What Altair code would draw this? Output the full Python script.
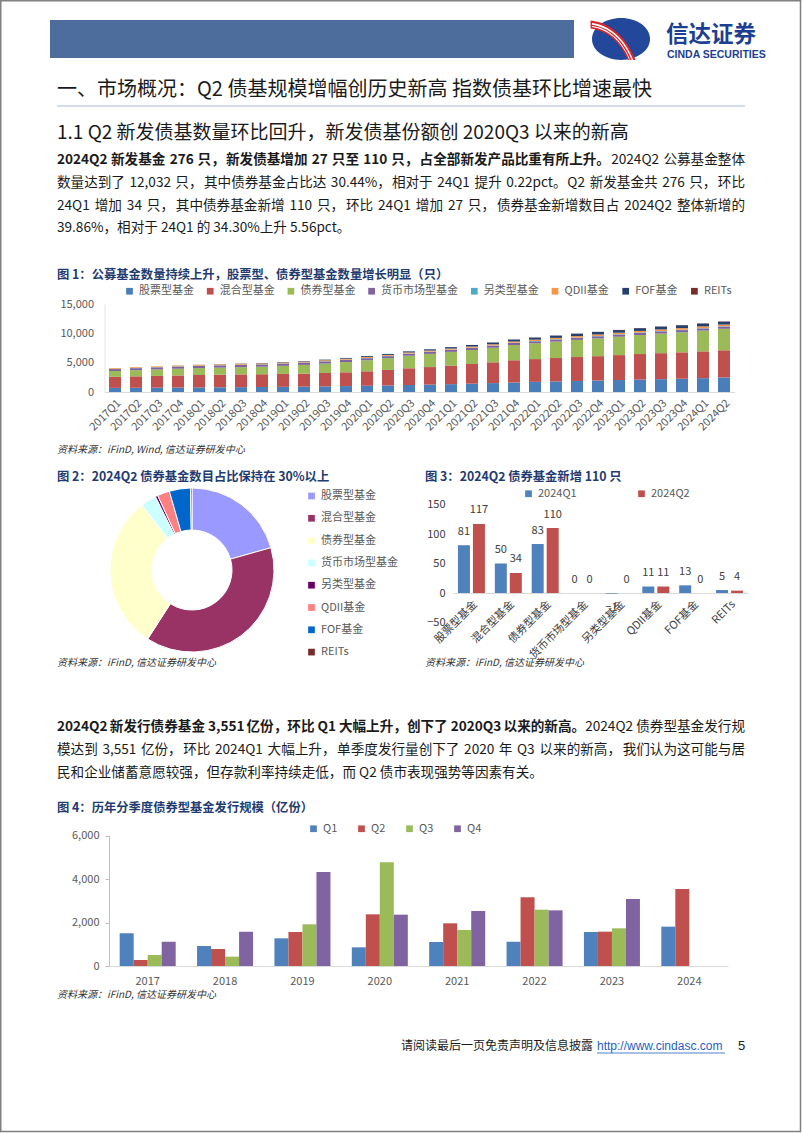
import altair as alt
import pandas as pd

FONT = "Noto Sans CJK SC"
W, H = 802, 1133

# ---------------- data: chart 1 (fund counts by type, per quarter) ----------------
quarters = ["2017Q1", "2017Q2", "2017Q3", "2017Q4", "2018Q1", "2018Q2", "2018Q3", "2018Q4",
            "2019Q1", "2019Q2", "2019Q3", "2019Q4", "2020Q1", "2020Q2", "2020Q3", "2020Q4",
            "2021Q1", "2021Q2", "2021Q3", "2021Q4", "2022Q1", "2022Q2", "2022Q3", "2022Q4",
            "2023Q1", "2023Q2", "2023Q3", "2023Q4", "2024Q1", "2024Q2"]
fund_types = ["股票型基金", "混合型基金", "债券型基金", "货币市场型基金", "另类型基金", "QDII基金", "FOF基金", "REITs"]
stock = [700, 720, 740, 760, 780, 800, 830, 850, 880, 910, 960, 1010, 1060, 1110, 1190, 1260,
         1340, 1420, 1520, 1640, 1730, 1800, 1880, 1960, 2040, 2120, 2190, 2260, 2360, 2480]
mixed = [1880, 1950, 2000, 2060, 2120, 2150, 2170, 2180, 2200, 2230, 2280, 2350, 2470, 2650, 2850, 2990,
         3180, 3350, 3540, 3780, 3880, 3990, 4080, 4150, 4250, 4350, 4430, 4500, 4570, 4630]
bond = [1000, 1050, 1100, 1150, 1180, 1200, 1230, 1280, 1380, 1480, 1600, 1740, 1880, 2010, 2140, 2250,
        2320, 2390, 2480, 2580, 2690, 2800, 2920, 3020, 3130, 3240, 3340, 3420, 3530, 3663]
money = [330, 345, 360, 370, 375, 380, 380, 380, 375, 370, 365, 360, 345, 335, 330, 330,
         330, 335, 335, 335, 340, 345, 350, 360, 365, 370, 372, 372, 372, 373]
alt_fund = [30, 32, 34, 36, 38, 40, 42, 44, 46, 48, 50, 52, 52, 52, 53, 53,
            54, 55, 56, 57, 58, 58, 59, 59, 60, 60, 60, 60, 60, 60]
qdii = [130, 132, 135, 138, 140, 145, 150, 155, 158, 160, 162, 165, 168, 170, 175, 180,
        185, 195, 205, 215, 225, 235, 245, 255, 262, 270, 275, 280, 285, 290]
fof = [0, 0, 4, 8, 16, 30, 45, 60, 70, 85, 100, 130, 150, 170, 190, 220,
       240, 270, 300, 330, 360, 390, 410, 430, 450, 470, 480, 490, 495, 500]
reits = [0, 0, 0, 0, 0, 0, 0, 0, 0, 0, 0, 0, 0, 0, 0, 0,
         0, 9, 11, 11, 12, 14, 20, 24, 26, 27, 29, 29, 33, 36]
colors1 = ["#4A7EBB", "#C0504D", "#9BBB59", "#8064A2", "#4BACC6", "#F79646", "#24406E", "#772C2A"]

# ---------------- data: chart 2 (2024Q2 share) ----------------
pie_values = [2480, 4630, 3663, 373, 60, 290, 500, 36]
pie_colors = ["#9999FF", "#993366", "#FFFFCC", "#CCFFFF", "#660066", "#FF8080", "#0066CC", "#772C2A"]

# ---------------- data: chart 3 (new funds) ----------------
series3 = ["2024Q1", "2024Q2"]
new_q1 = [81, 50, 83, 0, -1, 11, 13, 5]
new_q2 = [117, 34, 110, 0, 0, 11, 0, 4]
colors3 = ["#4F81BD", "#C0504D"]

# ---------------- data: chart 4 (bond fund issuance, 亿份) ----------------
years = ["2017", "2018", "2019", "2020", "2021", "2022", "2023", "2024"]
seasons = ["Q1", "Q2", "Q3", "Q4"]
iss_q1 = [1504, 921, 1274, 860, 1105, 1121, 1566, 1811]
iss_q2 = [276, 783, 1566, 2379, 1965, 3162, 1581, 3551]
iss_q3 = [507, 430, 1919, 4774, 1658, 2594, 1735, None]
iss_q4 = [1120, 1581, 4329, 2364, 2533, 2563, 3085, None]
colors4 = ["#4F81BD", "#C0504D", "#9BBB59", "#8064A2"]

# ---------------- page text ----------------
section_title = "一、市场概况：Q2 债基规模增幅创历史新高 指数债基环比增速最快"
sub_title = "1.1 Q2 新发债基数量环比回升，新发债基份额创 2020Q3 以来的新高"
p1_bold = "2024Q2 新发基金 276 只，新发债基增加 27 只至 110 只，占全部新发产品比重有所上升。"
p1_tail = "2024Q2 公募基金整体"
p1_lines = ["数量达到了 12,032 只，其中债券基金占比达 30.44%，相对于 24Q1 提升 0.22pct。Q2 新发基金共 276 只，环比",
            "24Q1 增加 34 只，其中债券基金新增 110 只，环比 24Q1 增加 27 只，债券基金新增数目占 2024Q2 整体新增的",
            "39.86%，相对于 24Q1 的 34.30%上升 5.56pct。"]
p2_bold = "2024Q2 新发行债券基金 3,551 亿份，环比 Q1 大幅上升，创下了 2020Q3 以来的新高。"
p2_tail = "2024Q2 债券型基金发行规"
p2_lines = ["模达到 3,551 亿份，环比 2024Q1 大幅上升，单季度发行量创下了 2020 年 Q3 以来的新高，我们认为这可能与居",
            "民和企业储蓄意愿较强，但存款利率持续走低，而 Q2 债市表现强势等因素有关。"]
fig1_title = "图 1：公募基金数量持续上升，股票型、债券型基金数量增长明显（只）"
fig2_title = "图 2：2024Q2 债券基金数目占比保持在 30%以上"
fig3_title = "图 3：2024Q2 债券基金新增 110 只"
fig4_title = "图 4：历年分季度债券型基金发行规模（亿份）"
src1 = "资料来源：iFinD, Wind, 信达证券研发中心"
src2 = "资料来源：iFinD, 信达证券研发中心"
footer_text = "请阅读最后一页免责声明及信息披露"
footer_url = "http://www.cindasc.com"
page_no = "5"

TITLE_C = "#1F3B70"
AX_C = "#595959"
LEFT, RIGHT = 57, 745
BODY = 13.6


def text_layer(s, x, y, size=13, weight="normal", color="#1A1A1A", align="left", style="normal", font=FONT):
    return alt.Chart(alt.Data(values=[{"t": s}])).mark_text(
        align=align, baseline="middle", fontSize=size, fontWeight=weight,
        color=color, font=font, fontStyle=style
    ).encode(x=alt.value(x), y=alt.value(y), text="t:N")


def rule_layer(x1, y1, x2, y2, color, width):
    return alt.Chart(alt.Data(values=[{"k": 0}])).mark_rule(color=color, strokeWidth=width).encode(
        x=alt.value(x1), y=alt.value(y1), x2=alt.value(x2), y2=alt.value(y2))


def est_width(s, size, bold=False):
    w = 0.0
    for ch in s:
        if ord(ch) > 0x2E80:
            w += 1.0
        elif ch == " ":
            w += 0.224
        elif ch.isdigit():
            w += 0.58 if bold else 0.553
        elif ch in ",.":
            w += 0.28
        elif ch == "%":
            w += 0.89
        elif ch == "Q":
            w += 0.76
        elif ch in "pc":
            w += 0.55
        elif ch == "t":
            w += 0.35
        else:
            w += 0.55
    return w * size


def split_segments(s):
    segs, cur = [], ""
    for ch in s:
        cur += ch
        if ch in "，。 ":
            segs.append(cur)
            cur = ""
    if cur:
        segs.append(cur)
    return segs


def justified_line(parts, y):
    """parts: list of (text, bold). Spread the segments so the line runs LEFT..RIGHT."""
    segs = []
    for text, bold in parts:
        for sg in split_segments(text):
            segs.append((sg, bold))
    widths = [est_width(sg, BODY, b) for sg, b in segs]
    gap = (RIGHT - LEFT - sum(widths)) / max(len(segs) - 1, 1)
    out, x = [], LEFT
    for k, ((sg, b), w) in enumerate(zip(segs, widths)):
        wt = "bold" if b else "normal"
        if k == len(segs) - 1 and k > 0:
            out.append(text_layer(sg, RIGHT, y, size=BODY, weight=wt, align="right"))
        else:
            out.append(text_layer(sg, x, y, size=BODY, weight=wt))
        x += w + gap
    return out


def legend(x, y, direction="horizontal", columns=None, col_pad=10, row_pad=8):
    kw = dict(orient="none", legendX=x, legendY=y, direction=direction, title=None,
              symbolType="square", symbolSize=45, symbolStrokeWidth=0,
              labelFontSize=11, labelFont=FONT, labelColor=AX_C,
              columnPadding=col_pad, rowPadding=row_pad, labelOffset=4, padding=0)
    if columns:
        kw["columns"] = columns
    return alt.Legend(**kw)


layers = []

# page border & header
layers.append(alt.Chart(alt.Data(values=[{"k": 0}])).mark_rect(
    fillOpacity=0, stroke="#808080", strokeWidth=1.5).encode(
    x=alt.value(0.75), x2=alt.value(800.5), y=alt.value(0.75), y2=alt.value(1131.5)))
layers.append(alt.Chart(alt.Data(values=[{"k": 0}])).mark_rect(color="#4D6E9C").encode(
    x=alt.value(50), x2=alt.value(574), y=alt.value(20), y2=alt.value(58)))

ELLIPSE = ("M -1 0 C -1 -0.3977 -0.5523 -0.72 0 -0.72 C 0.5523 -0.72 1 -0.3977 1 0 "
           "C 1 0.3977 0.5523 0.72 0 0.72 C -0.5523 0.72 -1 0.3977 -1 0 Z")
RIBBON = "M -1.05 -0.64 C -0.45 -0.58 0.15 -0.15 0.5 0.72 L 0.24 0.72 C -0.05 0.05 -0.5 -0.28 -1.05 -0.36 Z"
STRIPE1 = "M -1.0 -0.55 C -0.42 -0.47 0.12 -0.05 0.42 0.72 L 0.37 0.72 C 0.08 0.0 -0.42 -0.4 -1.0 -0.49 Z"
STRIPE2 = "M -1.0 -0.45 C -0.45 -0.38 0.02 0.0 0.32 0.72 L 0.29 0.72 C 0.0 0.04 -0.45 -0.32 -1.0 -0.41 Z"
for shp, col in [(ELLIPSE, "#23479B"), (RIBBON, "#D9262C"), (STRIPE1, "#FFFFFF"), (STRIPE2, "#FFFFFF")]:
    layers.append(alt.Chart(alt.Data(values=[{"k": 0}])).mark_point(
        shape=shp, size=3364, filled=True, color=col, opacity=1, strokeWidth=0).encode(
        x=alt.value(621), y=alt.value(39)))
layers.append(text_layer("信达证券", 666, 35, size=22.5, weight="bold", color="#1C3F94"))
layers.append(text_layer("CINDA SECURITIES", 667, 54.5, size=10.5, weight="bold", color="#1C3F94",
                         font="Liberation Sans"))

# headings
layers.append(text_layer(section_title, LEFT, 90, size=20, color="#1A1A1A"))
layers.append(rule_layer(LEFT, 106, RIGHT, 106, "#A9B9CF", 1))
layers.append(text_layer(sub_title, LEFT, 133, size=19, color="#1A1A1A"))

# paragraph 1
layers += justified_line([(p1_bold, True), (p1_tail, False)], 160)
layers += justified_line([(p1_lines[0], False)], 183)
layers += justified_line([(p1_lines[1], False)], 205.5)
layers.append(text_layer(p1_lines[2], LEFT, 228, size=BODY))

# chart titles & sources
layers.append(text_layer(fig1_title, LEFT, 275, size=12.3, weight="bold", color=TITLE_C))
layers.append(text_layer(src1, LEFT, 450, size=10, color="#333333", style="italic"))
layers.append(text_layer(fig2_title, LEFT, 477, size=12.3, weight="bold", color=TITLE_C))
layers.append(text_layer(fig3_title, 425, 477, size=12.3, weight="bold", color=TITLE_C))
layers.append(text_layer(src2, LEFT, 663, size=10, color="#333333", style="italic"))
layers.append(text_layer(src2, 425, 663, size=10, color="#333333", style="italic"))

# paragraph 2
layers += justified_line([(p2_bold, True), (p2_tail, False)], 727)
layers += justified_line([(p2_lines[0], False)], 750)
layers.append(text_layer(p2_lines[1], LEFT, 773, size=BODY))

layers.append(text_layer(fig4_title, LEFT, 808, size=12.3, weight="bold", color=TITLE_C))
layers.append(text_layer(src2, LEFT, 995, size=10, color="#333333", style="italic"))

# footer
layers.append(text_layer(footer_text, 593, 1046, size=12, color="#1A1A1A", align="right"))
layers.append(text_layer(footer_url, 597, 1046, size=12, color="#1F5FBF", font="Liberation Sans"))
layers.append(rule_layer(597, 1053, 725, 1053, "#1F5FBF", 0.8))
layers.append(text_layer(page_no, 738, 1046, size=13, color="#1A1A1A", font="Liberation Sans"))

# ---------------- chart 1 ----------------
rows1 = []
for i, (t, vals) in enumerate(zip(fund_types, [stock, mixed, bond, money, alt_fund, qdii, fof, reits])):
    for q, v in zip(quarters, vals):
        rows1.append({"quarter": q, "type": t, "idx": i, "value": v})
df1 = pd.DataFrame(rows1)

c1 = alt.Chart(df1).mark_bar().encode(
    x=alt.X("quarter:N", sort=quarters,
            scale=alt.Scale(domain=quarters, range=[104.5, 734.5], paddingInner=0.43, paddingOuter=0.215),
            axis=alt.Axis(orient="bottom", offset=-(H - 392), labelAngle=-45, labelFontSize=11,
                          labelFont=FONT, labelColor=AX_C, domainColor="#D9D9D9", ticks=False,
                          tickSize=0, labelPadding=5, labelOverlap=False, title=None, grid=False)),
    y=alt.Y("value:Q", stack="zero",
            scale=alt.Scale(domain=[0, 15000], range=[392, 304], nice=False),
            axis=alt.Axis(orient="left", offset=-104.5, values=[0, 5000, 10000, 15000], format=",.0f",
                          labelFontSize=11, labelFont=FONT, labelColor=AX_C, domainColor="#E3E3E3",
                          ticks=False, tickSize=0, labelPadding=11, title=None, grid=False)),
    color=alt.Color("type:N", scale=alt.Scale(domain=fund_types, range=colors1),
                    legend=legend(124, 285.5, columns=8, col_pad=10.7)),
    order=alt.Order("idx:Q"),
)
layers.append(c1)

# ---------------- chart 2 ----------------
df2 = pd.DataFrame({"type": fund_types, "value": pie_values, "idx": list(range(len(fund_types)))})
c2 = alt.Chart(df2).mark_arc(innerRadius=40, outerRadius=82, stroke="white", strokeWidth=1).encode(
    theta=alt.Theta("value:Q", stack=True),
    color=alt.Color("type:N", scale=alt.Scale(domain=fund_types, range=pie_colors),
                    legend=legend(306, 490.5, direction="vertical", row_pad=10.3)),
    order=alt.Order("idx:Q"),
    x=alt.value(192), y=alt.value(570),
)
layers.append(c2)

# ---------------- chart 3 ----------------
rows3 = []
for s, vals in zip(series3, [new_q1, new_q2]):
    for c, v in zip(fund_types, vals):
        rows3.append({"cat": c, "series": s, "value": v})
df3 = pd.DataFrame(rows3)
base3 = alt.Chart(df3).encode(
    x=alt.X("cat:N", sort=fund_types,
            scale=alt.Scale(domain=fund_types, range=[453, 748], paddingInner=0.268, paddingOuter=0.134),
            axis=alt.Axis(orient="bottom", offset=-(H - 593), labelAngle=-45, labelFontSize=11,
                          labelFont=FONT, labelColor="#404040", domainColor="#D9D9D9", ticks=False,
                          tickSize=0, labelPadding=5, labelOverlap=False, title=None, grid=False)),
    xOffset=alt.XOffset("series:N", scale=alt.Scale(domain=series3, paddingInner=0.2)),
    y=alt.Y("value:Q", scale=alt.Scale(domain=[-50, 150], range=[622.5, 504.5], nice=False),
            axis=alt.Axis(orient="left", offset=-453, values=[-50, 0, 50, 100, 150], format="d",
                          labelFontSize=11, labelFont=FONT, labelColor="#404040", domain=False,
                          ticks=False, tickSize=0, labelPadding=8, title=None, grid=False)),
)
bars3 = base3.mark_bar().encode(
    color=alt.Color("series:N", scale=alt.Scale(domain=series3, range=colors3),
                    legend=legend(523, 488, columns=2, col_pad=59)))
lab3_pos = base3.transform_filter(alt.datum.value >= 0).mark_text(
    baseline="middle", dy=-13.5, fontSize=11, font=FONT, color="#404040").encode(text="value:Q")
lab3_neg = base3.transform_filter(alt.datum.value < 0).mark_text(
    baseline="middle", dy=14, fontSize=11, font=FONT, color="#404040").encode(text="value:Q")
layers.append(alt.layer(bars3, lab3_pos, lab3_neg))

# ---------------- chart 4 ----------------
rows4 = []
for s, vals in zip(seasons, [iss_q1, iss_q2, iss_q3, iss_q4]):
    for y, v in zip(years, vals):
        if v is not None:
            rows4.append({"year": y, "season": s, "value": v})
df4 = pd.DataFrame(rows4)
c4 = alt.Chart(df4).mark_bar().encode(
    x=alt.X("year:N", sort=years,
            scale=alt.Scale(domain=years, range=[109, 728], paddingInner=0.276, paddingOuter=0.138),
            axis=alt.Axis(orient="bottom", offset=-(H - 966), labelAngle=0, labelFontSize=11,
                          labelFont=FONT, labelColor=AX_C, domainColor="#D9D9D9", ticks=False,
                          tickSize=0, labelPadding=9, title=None, grid=False)),
    xOffset=alt.XOffset("season:N", scale=alt.Scale(domain=seasons, paddingInner=0, paddingOuter=0)),
    y=alt.Y("value:Q", scale=alt.Scale(domain=[0, 6000], range=[966, 835.7], nice=False),
            axis=alt.Axis(orient="left", offset=-109, values=[0, 2000, 4000, 6000], format=",.0f",
                          labelFontSize=11, labelFont=FONT, labelColor=AX_C, domainColor="#BFBFBF",
                          tickColor="#BFBFBF", tickSize=4, labelPadding=6, title=None, grid=False)),
    color=alt.Color("season:N", scale=alt.Scale(domain=seasons, range=colors4),
                    legend=legend(308, 823, columns=4, col_pad=18)),
)
layers.append(c4)

chart = alt.layer(*layers).resolve_scale(
    x="independent", y="independent", color="independent", xOffset="independent"
).resolve_legend(color="independent").properties(
    width=W, height=H, padding=0, autosize=alt.AutoSizeParams(type="none")
).configure_view(stroke=None).configure(background="white")

chart.save("out.html", embed_options={"renderer": "svg", "actions": False})
